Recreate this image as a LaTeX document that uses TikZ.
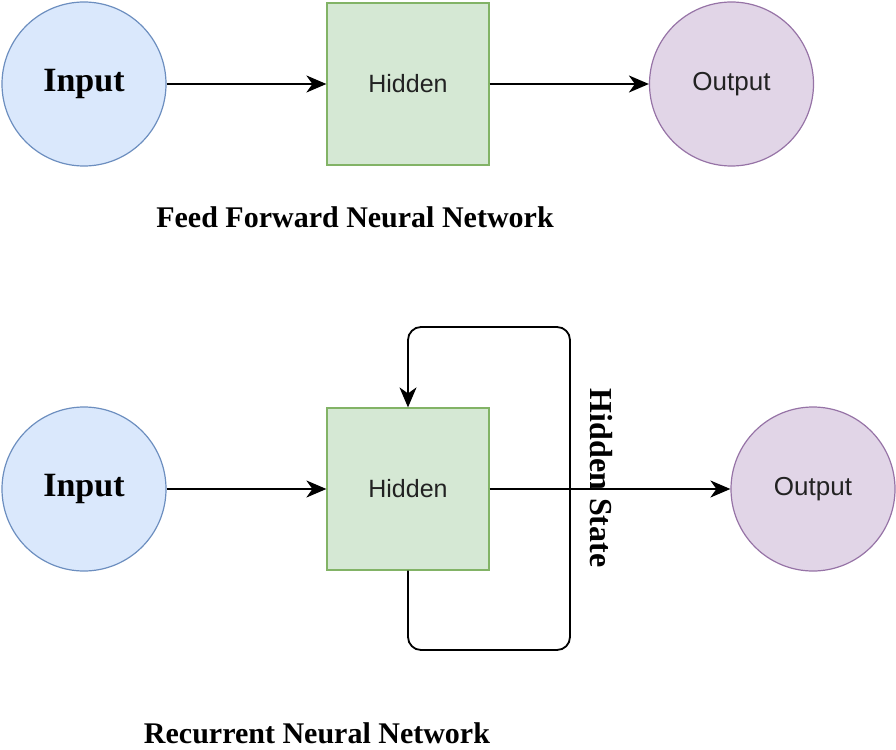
\documentclass[tikz,border=0pt]{standalone}
\usepackage{fontspec}
\setmainfont{Liberation Serif}
\newfontfamily\arialf{Liberation Sans}
\usetikzlibrary{arrows.meta,shapes.geometric}
\definecolor{bluefill}{HTML}{DAE8FC}
\definecolor{bluedraw}{HTML}{6C8EBF}
\definecolor{greenfill}{HTML}{D5E8D4}
\definecolor{greendraw}{HTML}{82B366}
\definecolor{purplefill}{HTML}{E1D5E7}
\definecolor{purpledraw}{HTML}{9673A6}
\definecolor{textdark}{HTML}{222222}
\tikzset{
  inputnode/.style={ellipse, draw=bluedraw, fill=bluefill, line width=1.2pt, minimum width=164pt, minimum height=164pt, inner sep=0pt, font=\fontsize{34}{40}\selectfont\bfseries},
  hiddennode/.style={rectangle, draw=greendraw, fill=greenfill, line width=1.2pt, minimum width=162pt, minimum height=162pt, inner sep=0pt, font=\arialf\fontsize{25}{30}\selectfont, text=textdark},
  outputnode/.style={ellipse, draw=purpledraw, fill=purplefill, line width=1.2pt, minimum width=164pt, minimum height=164pt, inner sep=0pt, font=\arialf\fontsize{26}{30}\selectfont, text=textdark},
  caption/.style={font=\fontsize{30}{34}\selectfont\bfseries, inner sep=0pt},
  conn/.style={line width=1.8pt, -{Stealth[length=20pt,width=17pt,inset=6pt]}},
  loopline/.style={line width=1.8pt, rounded corners=13pt}
}
\begin{document}
\begin{tikzpicture}[x=1pt,y=-1pt]
\useasboundingbox (0,0) rectangle (896,749);
% Feed forward
\node[inputnode] (in1) at (84,84) {Input};
\node[hiddennode] (h1) at (408,84) {Hidden};
\node[outputnode] (out1) at (731.5,84) {Output};
\draw[conn] (in1) -- (h1);
\draw[conn] (h1) -- (out1);
\node[caption] (cap1) at (355,217) {Feed Forward Neural Network};
% Recurrent
\node[inputnode] (in2) at (84,489) {Input};
\node[hiddennode] (h2) at (408,489) {Hidden};
\node[outputnode] (out2) at (813,489) {Output};
\draw[conn] (in2) -- (h2);
\draw[conn] (h2) -- (out2);
\coordinate (lb1) at (408,650);
\coordinate (lb2) at (570,650);
\coordinate (lt2) at (570,327);
\coordinate (lt1) at (408,327);
\draw[loopline] (h2.south) -- (lb1) -- (lb2) -- (lt2) -- (lt1) -- ([yshift=25pt]h2.north);
\draw[conn] ([yshift=27pt]h2.north) -- (h2.north);
\node[caption, font=\fontsize{32}{36}\selectfont\bfseries, rotate=-90] (hs) at (601,478) {Hidden State};
\node[caption] (cap2) at (317,733) {Recurrent Neural Network};
\end{tikzpicture}
\end{document}
